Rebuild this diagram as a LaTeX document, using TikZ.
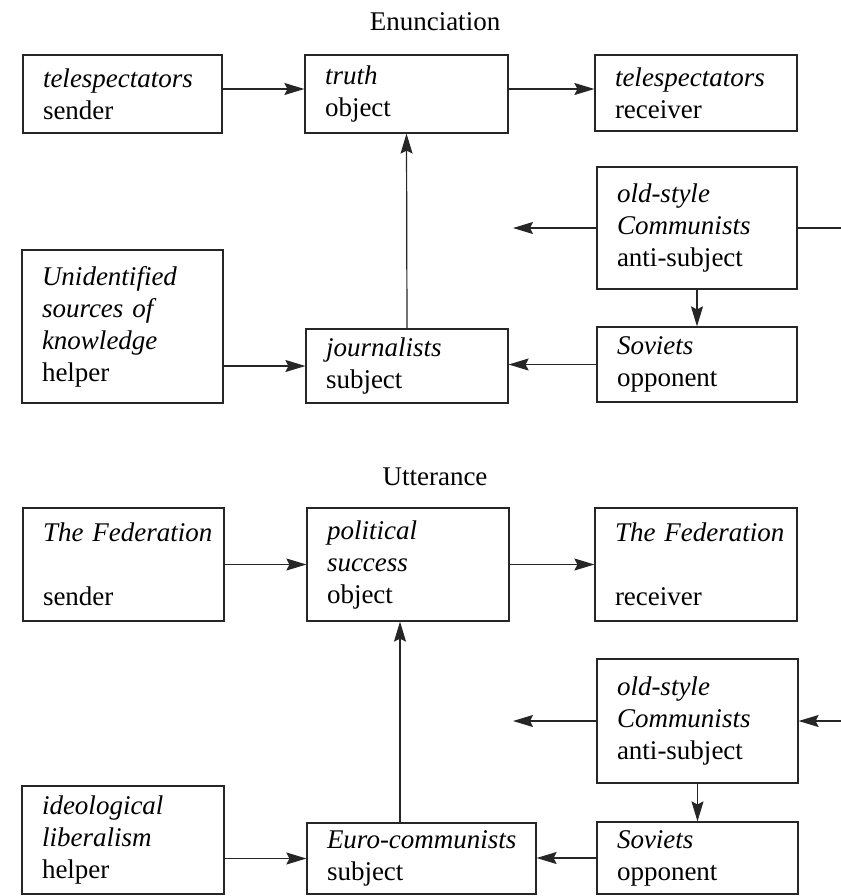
\documentclass[tikz,border=0pt]{standalone}
\usepackage{fontspec}
\setmainfont{Liberation Serif}
\usetikzlibrary{arrows.meta}
\begin{document}
\begin{tikzpicture}[x=0.5pt,y=-0.5pt,
  box/.style={draw=black!85, line width=0.6pt, inner xsep=10pt, inner ysep=0pt, align=left,
    font=\fontsize{13.5}{16}\selectfont,
    execute at begin node={\hyphenpenalty=10000\exhyphenpenalty=10000\relax}},
  conn/.style={draw=black!85, line width=0.6pt, -{Stealth[length=10pt,width=6pt,inset=1.5pt]}},
  plainline/.style={draw=black!85, line width=0.6pt},
  title/.style={font=\fontsize{13.5}{16}\selectfont}]
\useasboundingbox (0,0) rectangle (841,896);

% ---------- Enunciation ----------
\node[title] (t1) at (435,22) {Enunciation};
\node[box, text width=79.5pt, minimum height=39pt] (tsend) at (122.5,94) {\textit{telespectators}\\sender};
\node[box, text width=81.5pt, minimum height=39pt] (tobj) at (406.5,94) {\textit{truth}\\object};
\node[box, text width=81pt, minimum height=38pt] (trec) at (696,93) {\textit{telespectators}\\receiver};
\node[box, text width=80pt, minimum height=61pt] (tanti) at (697,228) {\textit{old-style}\\\textit{Communists}\\anti-subject};
\node[box, text width=80pt, minimum height=37.5pt] (topp) at (697,364.5) {\textit{Soviets}\\opponent};
\node[box, text width=81pt, minimum height=37pt] (tsubj) at (407,366) {\textit{journalists}\\subject};
\node[box, text width=80.5pt, minimum height=76.5pt] (thelp) at (122.5,326.5) {\textit{Unidentified}\\\textit{sources~of}\\\textit{knowledge}\\helper};
\coordinate (tleft) at (513,228);
\coordinate (tright) at (841,228);
\coordinate (tarrowy) at (0,89);

\draw[conn] (tsend.east |- tarrowy) -- (tobj.west |- tarrowy);
\draw[conn] (tobj.east |- tarrowy) -- (trec.west |- tarrowy);
\draw[conn] (tsubj.north) -- (tobj.south);
\draw[conn] (tanti.west) -- (tleft |- tanti.west);
\draw[plainline] (tanti.east) -- (tright |- tanti.east);
\draw[conn] (tanti.south) -- (topp.north);
\draw[conn] (topp.west) -- (tsubj.east |- topp.west);
\draw[conn] (thelp.east |- tsubj.west) -- (tsubj.west);

% ---------- Utterance ----------
\node[title] (t2) at (435,477) {Utterance};
\node[box, text width=80.5pt, minimum height=56.5pt] (bsend) at (123.5,564.5) {\mbox{\textit{The Federation}}\\[16pt]sender};
\node[box, text width=81pt, minimum height=56.5pt] (bobj) at (408,564.5) {\textit{political}\\\textit{success}\\object};
\node[box, text width=81pt, minimum height=56.5pt] (brec) at (696,564.5) {\mbox{\textit{The Federation}}\\[16pt]receiver};
\node[box, text width=80.5pt, minimum height=62pt] (banti) at (697.5,721) {\textit{old-style}\\\textit{Communists}\\anti-subject};
\node[box, text width=80.5pt, minimum height=36pt] (bopp) at (697.5,858) {\textit{Soviets}\\opponent};
\node[box, text width=94.5pt, minimum height=35.5pt] (bsubj) at (421.5,858.5) {\mbox{\textit{Euro-communists}}\\subject};
\node[box, text width=81pt, minimum height=54pt] (bhelp) at (123,840) {\textit{ideological}\\\textit{liberalism}\\helper};
\coordinate (bleft) at (513,721);
\coordinate (bright) at (841,721);
\coordinate (bvx) at (400,700);

\draw[conn] (bsend.east) -- (bobj.west);
\draw[conn] (bobj.east) -- (brec.west);
\draw[conn] (bvx |- bsubj.north) -- (bvx |- bobj.south);
\draw[conn] (banti.west) -- (bleft |- banti.west);
\draw[conn] (bright |- banti.east) -- (banti.east);
\draw[conn] (banti.south) -- (bopp.north);
\draw[conn] (bopp.west) -- (bsubj.east |- bopp.west);
\draw[conn] (bhelp.east |- bsubj.west) -- (bsubj.west);
\end{tikzpicture}
\end{document}
